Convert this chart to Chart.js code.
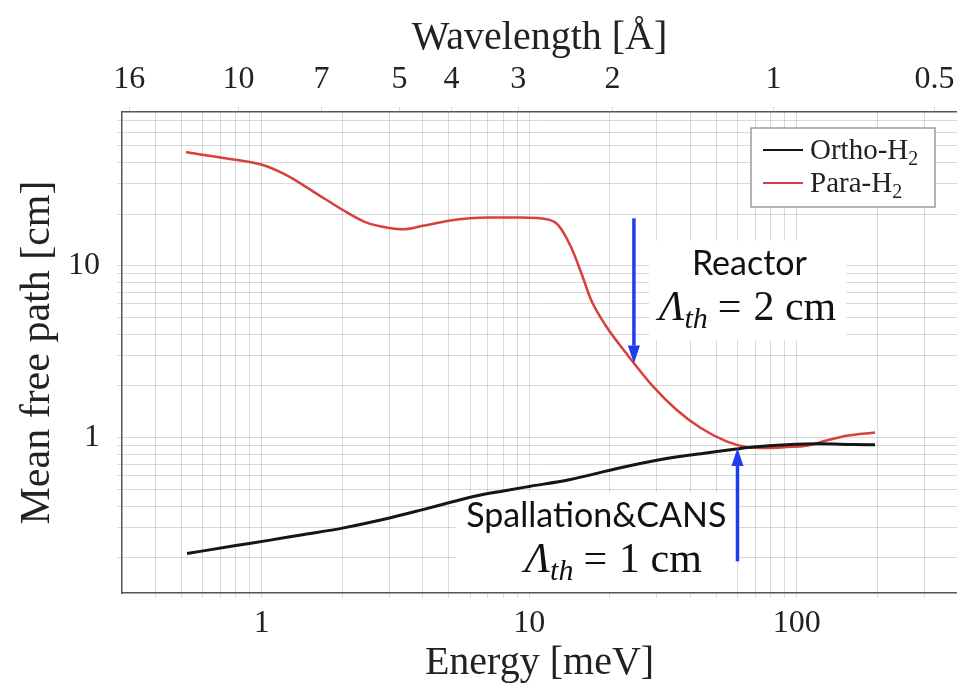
<!DOCTYPE html>
<html>
<head>
<meta charset="utf-8">
<script src="https://cdn.jsdelivr.net/npm/chart.js@4.4.0/dist/chart.umd.min.js"></script>
<style>
  html, body { margin: 0; padding: 0; background: #fff; }
  #wrap { width: 957px; height: 696px; }
</style>
</head>
<body>
<div id="wrap"><canvas id="mfpChart"></canvas></div>
<script>
// --- data ---
const energyOrtho = [0.525, 0.8, 1.06, 1.42, 2.0, 3.0, 4.0, 5.16, 6.3, 7.9, 10.0, 14.1, 21.7, 33.4, 45.9, 59.4, 68.6, 91.5, 122, 163, 196];
const mfpOrtho = [0.212, 0.236, 0.253, 0.273, 0.298, 0.341, 0.382, 0.424, 0.458, 0.489, 0.521, 0.570, 0.667, 0.762, 0.815, 0.860, 0.883, 0.911, 0.923, 0.914, 0.911];

const energyPara = [0.52, 0.73, 1.0, 1.23, 1.59, 2.0, 2.45, 3.0, 3.35, 4.0, 5.0, 6.0, 7.0, 9.2, 11.9, 12.8, 14.3, 15.8, 17.0, 19.4, 23.0, 29.0, 35.4, 43.3, 54.6, 64.8, 77, 91.5, 108.7, 129, 153.5, 196];
const mfpPara = [45.8, 42.3, 38.7, 33.8, 26.5, 21.2, 17.9, 16.6, 16.3, 17.1, 18.3, 18.9, 19.1, 19.1, 18.5, 17.3, 12.9, 8.7, 6.35, 4.44, 3.11, 1.99, 1.46, 1.15, 0.952, 0.883, 0.871, 0.883, 0.898, 0.964, 1.027, 1.074];

const energyTickLabels = [1, 10, 100];
const mfpTickLabels = [1, 10];
const wavelengthTicks = [16, 10, 7, 5, 4, 3, 2, 1, 0.5];

// arrows: [energy, from, to]
const reactorArrow = [24.6, 18.9, 2.7];
const spallationArrow = [60, 0.191, 0.871];

const serif = "'Liberation Serif', 'Times New Roman', serif";
const sans = "Lato, 'Open Sans', sans-serif";
const gridColor = 'rgba(0,0,0,0.15)';
const textColor = '#222';

const E_MIN = 0.3, E_MAX = 397, L_MIN = 0.125, L_MAX = 78.5;

// all 1..9 x 10^n values inside a range, for the log grid
function logGrid(min, max) {
    const out = [];
    for (let e = -2; e <= 3; e++) {
        for (let m = 1; m <= 9; m++) {
            const v = Number((m * Math.pow(10, e)).toPrecision(6));
            if (v > min && v < max) out.push(v);
        }
    }
    return out;
}

function toPoints(xs, ys) {
    return xs.map((x, i) => ({ x: x, y: ys[i] }));
}

// E[meV] = 81.804 / lambda[A]^2
const lambdaToE = l => 81.804 / (l * l);

// keep the plot flush with the right edge, like the cropped original
function fitX(height) {
    return s => { s.height = height; s.paddingLeft = 0; s.paddingRight = 0; };
}

// the two notes, each line anchored at (energy, mfp)
const notes = [
    { lines: [
        { x: 66.5, y: 8.87, kind: 'sans', text: 'Reactor' },
        { x: 65.5, y: 4.85, kind: 'math', text: '2 cm' }
    ]},
    { lines: [
        { x: 17.8, y: 0.304, kind: 'sans', text: 'Spallation&CANS' },
        { x: 20.6, y: 0.166, kind: 'math', text: '1 cm' }
    ]}
];

function mathPieces(rest) {
    return [
        { t: 'Λ', font: 'italic 42px ' + serif, dy: 0, gap: 0 },
        { t: 'th', font: 'italic 30px ' + serif, dy: 8, gap: 10 },
        { t: '=', font: '42px ' + serif, dy: 0, gap: 12 },
        { t: rest, font: '42px ' + serif, dy: 0, gap: 0 }
    ];
}

function lineExtent(ctx, line) {
    if (line.kind === 'sans') {
        ctx.font = '34px ' + sans;
        return { w: ctx.measureText(line.text).width, up: 26, down: 8 };
    }
    let w = 0;
    mathPieces(line.text).forEach(p => { ctx.font = p.font; w += ctx.measureText(p.t).width + p.gap; });
    return { w: w, up: 28, down: 14 };
}

function drawArrow(ctx, x, y0, y1) {
    const dir = y1 > y0 ? 1 : -1;
    const head = 18;
    ctx.save();
    ctx.strokeStyle = '#1f3cf2';
    ctx.fillStyle = '#1f3cf2';
    ctx.lineWidth = 3.5;
    ctx.beginPath();
    ctx.moveTo(x, y0);
    ctx.lineTo(x, y1 - dir * head);
    ctx.stroke();
    ctx.beginPath();
    ctx.moveTo(x, y1);
    ctx.lineTo(x - 6, y1 - dir * head);
    ctx.lineTo(x + 6, y1 - dir * head);
    ctx.closePath();
    ctx.fill();
    ctx.restore();
}

const notesPlugin = {
    id: 'notes',
    beforeDatasetsDraw(chart) {
        const ctx = chart.ctx, xs = chart.scales.x, ys = chart.scales.y;
        ctx.save();
        ctx.fillStyle = '#fff';
        notes.forEach(n => {
            let l = Infinity, r = -Infinity, t = Infinity, b = -Infinity;
            n.lines.forEach(line => {
                const ext = lineExtent(ctx, line);
                const cx = xs.getPixelForValue(line.x), by = ys.getPixelForValue(line.y);
                l = Math.min(l, cx - ext.w / 2); r = Math.max(r, cx + ext.w / 2);
                t = Math.min(t, by - ext.up); b = Math.max(b, by + ext.down);
            });
            ctx.fillRect(l - 10, t - 8, r - l + 20, b - t + 14);
        });
        ctx.restore();
    },
    afterDatasetsDraw(chart) {
        const ctx = chart.ctx, xs = chart.scales.x, ys = chart.scales.y;
        ctx.save();
        ctx.fillStyle = '#111';
        ctx.textBaseline = 'alphabetic';
        notes.forEach(n => {
            n.lines.forEach(line => {
                const ext = lineExtent(ctx, line);
                const cx = xs.getPixelForValue(line.x), by = ys.getPixelForValue(line.y);
                if (line.kind === 'sans') {
                    ctx.font = '34px ' + sans;
                    ctx.textAlign = 'center';
                    ctx.fillText(line.text, cx, by);
                } else {
                    let px = cx - ext.w / 2;
                    ctx.textAlign = 'left';
                    mathPieces(line.text).forEach(p => {
                        ctx.font = p.font;
                        ctx.fillText(p.t, px, by + p.dy);
                        px += ctx.measureText(p.t).width + p.gap;
                    });
                }
            });
        });
        ctx.restore();
        [reactorArrow, spallationArrow].forEach(a => {
            drawArrow(ctx, xs.getPixelForValue(a[0]), ys.getPixelForValue(a[1]), ys.getPixelForValue(a[2]));
        });
    },
    afterDraw(chart) {
        // legend box in the upper right corner
        const ctx = chart.ctx, area = chart.chartArea;
        const right = area.right - 22, top = area.top + 16;
        const w = 184, h = 79;
        ctx.save();
        ctx.fillStyle = '#fff';
        ctx.strokeStyle = '#9a9a9a';
        ctx.lineWidth = 1.5;
        ctx.fillRect(right - w, top, w, h);
        ctx.strokeRect(right - w, top, w, h);
        chart.data.datasets.forEach((ds, i) => {
            const y = top + 22 + i * 33;
            ctx.strokeStyle = ds.borderColor;
            ctx.lineWidth = 2;
            ctx.beginPath();
            ctx.moveTo(right - w + 12, y);
            ctx.lineTo(right - w + 52, y);
            ctx.stroke();
            const base = ds.label.replace('₂', '');
            ctx.fillStyle = '#222';
            ctx.textAlign = 'left';
            ctx.textBaseline = 'alphabetic';
            ctx.font = '29px ' + serif;
            ctx.fillText(base, right - w + 59, y + 9);
            const bw = ctx.measureText(base).width;
            ctx.font = '20px ' + serif;
            ctx.fillText('2', right - w + 59 + bw, y + 15);
        });
        ctx.restore();
    }
};

new Chart(document.getElementById('mfpChart'), {
    type: 'line',
    data: {
        datasets: [{
            label: 'Ortho-H₂',
            data: toPoints(energyOrtho, mfpOrtho),
            borderColor: '#151515',
            borderWidth: 3,
            pointRadius: 0,
            cubicInterpolationMode: 'monotone',
            xAxisID: 'x'
        }, {
            label: 'Para-H₂',
            data: toPoints(energyPara, mfpPara),
            borderColor: '#d8403b',
            borderWidth: 2.5,
            pointRadius: 0,
            cubicInterpolationMode: 'monotone',
            xAxisID: 'x'
        }]
    },
    options: {
        responsive: true,
        maintainAspectRatio: false,
        animation: false,
        layout: { padding: 0 },
        plugins: { legend: { display: false }, tooltip: { enabled: false } },
        scales: {
            x: {
                type: 'logarithmic',
                position: 'bottom',
                min: E_MIN, max: E_MAX,
                afterBuildTicks: s => { s.ticks = logGrid(E_MIN, E_MAX).map(v => ({ value: v })); },
                afterFit: fitX(103),
                grid: { color: gridColor, lineWidth: 1, tickLength: 5 },
                border: { display: true, color: '#555', width: 1.5 },
                ticks: {
                    autoSkip: false, maxRotation: 0, padding: 6, color: textColor,
                    font: { family: serif, size: 32 },
                    callback: v => energyTickLabels.includes(v) ? String(v) : ''
                },
                title: { display: true, text: 'Energy [meV]', color: textColor, font: { family: serif, size: 40 }, padding: { top: 0, bottom: 9 } }
            },
            x2: {
                type: 'logarithmic',
                position: 'top',
                min: E_MIN, max: E_MAX,
                afterBuildTicks: s => { s.ticks = wavelengthTicks.map(l => ({ value: lambdaToE(l) })); },
                afterFit: fitX(112),
                grid: { drawOnChartArea: false, color: gridColor, tickLength: 5 },
                border: { display: true, color: '#555', width: 1.5 },
                ticks: {
                    autoSkip: false, maxRotation: 0, padding: 8, color: textColor,
                    font: { family: serif, size: 32 },
                    callback: (v, i) => String(wavelengthTicks[i])
                },
                title: { display: true, text: 'Wavelength [Å]', color: textColor, font: { family: serif, size: 40 }, padding: { top: 14, bottom: 0 } }
            },
            y: {
                type: 'logarithmic',
                position: 'left',
                min: L_MIN, max: L_MAX,
                afterBuildTicks: s => { s.ticks = logGrid(L_MIN, L_MAX).map(v => ({ value: v })); },
                afterFit: s => { s.width = 122; },
                grid: { color: gridColor, lineWidth: 1, tickLength: 5 },
                border: { display: true, color: '#555', width: 1.5 },
                ticks: {
                    autoSkip: false, padding: 17, color: textColor,
                    font: { family: serif, size: 32 },
                    callback: v => mfpTickLabels.includes(v) ? String(v) : ''
                },
                title: { display: true, text: 'Mean free path [cm]', color: textColor, font: { family: serif, size: 42 }, padding: { top: 13, bottom: 0 } }
            }
        }
    },
    plugins: [notesPlugin]
});
</script>
</body>
</html>
